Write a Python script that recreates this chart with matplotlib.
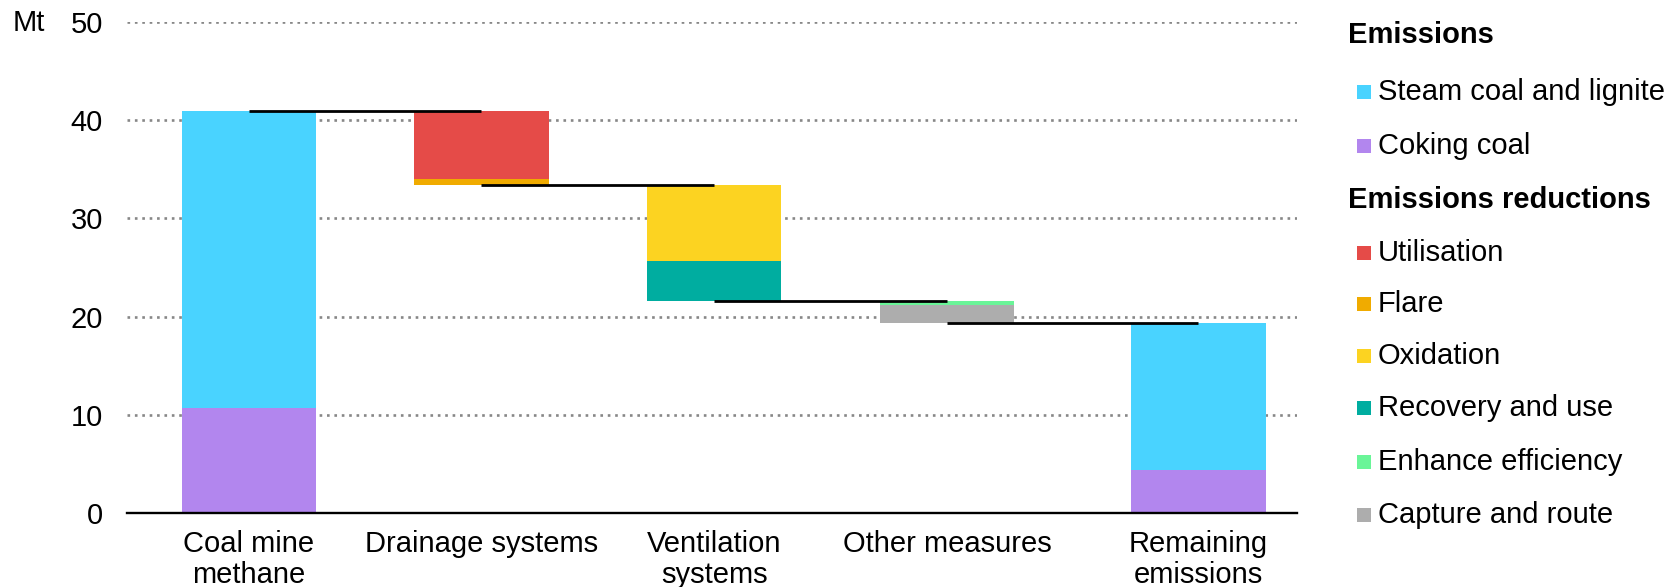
import matplotlib
matplotlib.use('Agg')
import matplotlib.pyplot as plt
from matplotlib.patches import Rectangle

plt.rcParams['font.family'] = ['Liberation Sans', 'DejaVu Sans']

# ---------------- data ----------------
categories = ['Coal mine\nmethane', 'Drainage systems', 'Ventilation\nsystems',
              'Other measures', 'Remaining\nemissions']
yticks = [0, 10, 20, 30, 40, 50]

start_coking = 10.7
start_steam = 30.2
drainage_utilisation = 6.85
drainage_flare = 0.65
ventilation_oxidation = 7.7
ventilation_recovery = 4.1
other_enhance = 0.4
other_capture = 1.8
remaining_coking = 4.4
remaining_steam = 15.0

emission_labels = ['Steam coal and lignite', 'Coking coal']
emission_colors = ['#49D3FF', '#B286EE']
reduction_labels = ['Utilisation', 'Flare', 'Oxidation', 'Recovery and use',
                    'Enhance efficiency', 'Capture and route']
reduction_colors = ['#E54B48', '#F0AB00', '#FCD321', '#00ADA0', '#6AF598', '#ADADAD']

# ---------------- figure ----------------
W, H = 1671, 587
fig = plt.figure(figsize=(W / 100, H / 100), dpi=100)
ax = fig.add_axes([126.7 / W, 1 - 513.3 / H, 1170 / W, (513.3 - 21.8) / H])

xpos = [0, 1, 2, 3, 4.08]
bw = 0.576

# start bar
ax.bar(xpos[0], start_coking, bw, color=emission_colors[1], zorder=2)
ax.bar(xpos[0], start_steam, bw, bottom=start_coking, color=emission_colors[0], zorder=2)

level = start_coking + start_steam
levels = [level]
steps = [
    (xpos[1], [(drainage_utilisation, reduction_colors[0]), (drainage_flare, reduction_colors[1])]),
    (xpos[2], [(ventilation_oxidation, reduction_colors[2]), (ventilation_recovery, reduction_colors[3])]),
    (xpos[3], [(other_enhance, reduction_colors[4]), (other_capture, reduction_colors[5])]),
]
for x, parts in steps:
    for val, col in parts:
        ax.bar(x, val, bw, bottom=level - val, color=col, zorder=2)
        level -= val
    levels.append(level)

# remaining bar
ax.bar(xpos[4], remaining_coking, bw, color=emission_colors[1], zorder=2)
ax.bar(xpos[4], remaining_steam, bw, bottom=remaining_coking, color=emission_colors[0], zorder=2)
levels[-1] = remaining_coking + remaining_steam

# connectors
for i in range(4):
    ax.plot([xpos[i], xpos[i + 1]], [levels[i], levels[i]], color='black', lw=2.0,
            zorder=3, solid_capstyle='butt')

ax.set_xlim(-0.524, 4.502)
ax.set_ylim(0, 50)
ax.set_yticks(yticks)
ax.set_xticks(xpos)
ax.set_xticklabels(categories, fontsize=21, linespacing=1.13)
ax.tick_params(axis='y', length=0, pad=17, labelsize=21)
ax.tick_params(axis='x', length=0, pad=12)
ax.yaxis.grid(True, color='#878787', linestyle=(0, (1, 1.8)), linewidth=1.9)
ax.set_axisbelow(True)
for s in ['top', 'right', 'left']:
    ax.spines[s].set_visible(False)
ax.spines['bottom'].set_linewidth(1.7)
ax.spines['bottom'].set_zorder(4)

fig.text(13 / W, 1 - 23.4 / H, 'Mt', fontsize=21, va='center', ha='left')

# ---------------- legend ----------------
def fy(py):
    return 1 - py / H

fig.text(1348 / W, fy(35.2), 'Emissions', fontsize=21, fontweight='bold', va='center', ha='left')
emis_y = [91.6, 146]
for lab, col, py in zip(emission_labels, emission_colors, emis_y):
    fig.add_artist(Rectangle((1357 / W, fy(py + 7)), 14 / W, 14 / H, transform=fig.transFigure,
                             color=col, lw=0))
    fig.text(1378 / W, fy(py), lab, fontsize=21, va='center', ha='left')

fig.text(1348 / W, fy(200.4), 'Emissions reductions', fontsize=21, fontweight='bold',
         va='center', ha='left')
red_y = [252.6, 303.7, 356, 408.2, 461.5, 514.7]
for lab, col, py in zip(reduction_labels, reduction_colors, red_y):
    fig.add_artist(Rectangle((1357 / W, fy(py + 7)), 14 / W, 14 / H, transform=fig.transFigure,
                             color=col, lw=0))
    fig.text(1378 / W, fy(py), lab, fontsize=21, va='center', ha='left')

fig.savefig('out.png', dpi=100)
